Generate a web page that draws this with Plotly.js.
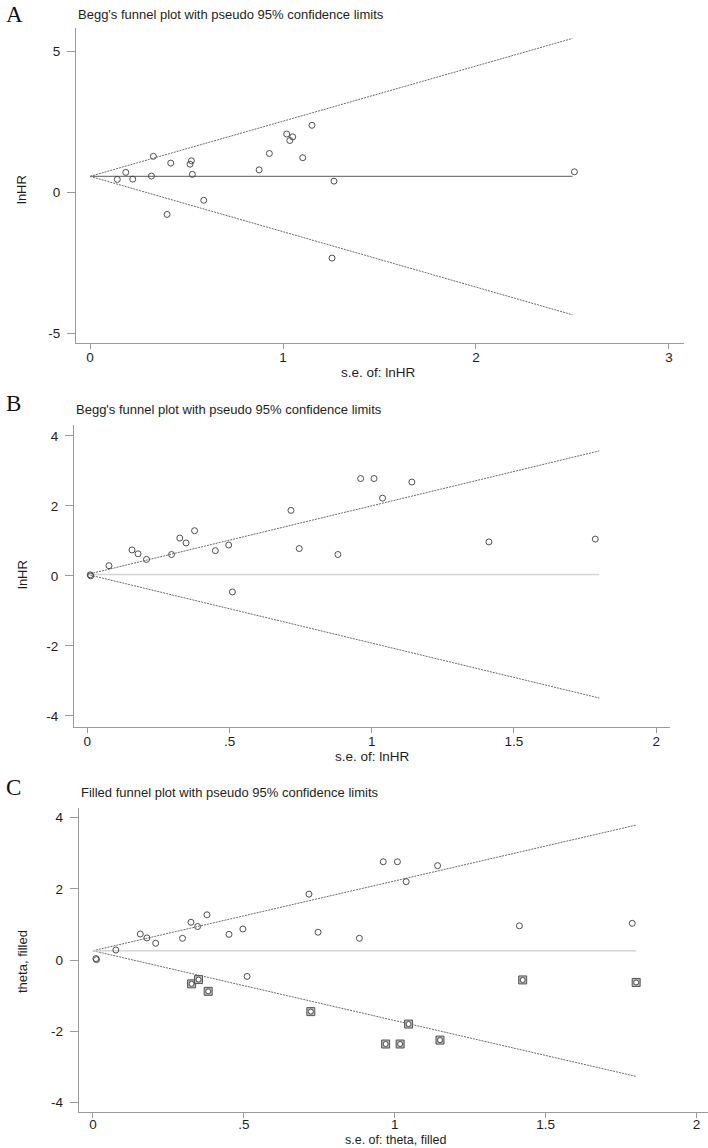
<!DOCTYPE html>
<html>
<head>
<meta charset="utf-8">
<script src="https://cdn.plot.ly/plotly-3.0.1.min.js"></script>
<style>html,body{margin:0;padding:0;background:#fff;}#chart{width:708px;height:1148px;}</style>
</head>
<body>
<div id="chart"></div>
<script>
// ---------- Panel A data ----------
const A_se   = [0.141,0.185,0.221,0.318,0.328,0.418,0.518,0.525,0.530,0.589,0.399,0.876,0.929,1.019,1.035,1.050,1.102,1.150,1.264,1.254,2.51];
const A_lnhr = [0.45,0.70,0.46,0.57,1.27,1.03,0.99,1.11,0.63,-0.29,-0.79,0.79,1.37,2.06,1.83,1.96,1.22,2.37,0.39,-2.34,0.72];
const A_lineSe    = [0, 2.5];
const A_lineTheta = [0.56, 0.56];
const A_upper     = [0.56, 5.45];
const A_lower     = [0.56, -4.35];

// ---------- Panel B data ----------
const B_se   = [0.010,0.012,0.076,0.157,0.178,0.208,0.296,0.325,0.347,0.377,0.450,0.497,0.510,0.716,0.745,0.881,0.961,1.008,1.038,1.141,1.412,1.786];
const B_lnhr = [0.03,0.00,0.29,0.74,0.63,0.47,0.61,1.08,0.94,1.29,0.72,0.88,-0.46,1.87,0.78,0.61,2.78,2.78,2.22,2.68,0.97,1.05];
const B_lineSe    = [0, 1.8];
const B_lineTheta = [0.04, 0.04];
const B_upper     = [0.04, 3.57];
const B_lower     = [0.04, -3.49];

// ---------- Panel C data ----------
const C_se    = [0.010,0.012,0.076,0.157,0.179,0.208,0.297,0.325,0.347,0.378,0.451,0.497,0.511,0.716,0.746,0.883,0.962,1.009,1.038,1.142,1.413,1.787];
const C_theta = [0.04,0.01,0.28,0.73,0.62,0.47,0.61,1.06,0.94,1.27,0.72,0.87,-0.46,1.85,0.78,0.61,2.76,2.76,2.20,2.65,0.96,1.03];
const Cf_se    = [0.327,0.350,0.382,0.722,0.970,1.018,1.046,1.150,1.424,1.800];
const Cf_theta = [-0.67,-0.55,-0.88,-1.45,-2.36,-2.36,-1.80,-2.25,-0.56,-0.63];
const C_lineSe    = [0, 1.8];
const C_lineTheta = [0.26, 0.26];
const C_upper     = [0.26, 3.79];
const C_lower     = [0.26, -3.27];

// ---------- tick labels ----------
const A_xticks = [0,1,2,3];        const A_xtext = ['0','1','2','3'];
const A_yticks = [-5,0,5];         const A_ytext = ['-5','0','5'];
const BC_xticks = [0,0.5,1,1.5,2]; const BC_xtext = ['0','.5','1','1.5','2'];
const BC_yticks = [-4,-2,0,2,4];   const BC_ytext = ['-4','-2','0','2','4'];

// ---------- helpers (layout only) ----------
const W = 708, H = 1148;
const px = v => v / W;
const py = v => 1 - v / H;

const circ = {symbol:'circle-open', size:6, color:'#3c3c3c', line:{width:0.9, color:'#3c3c3c'}};
const dotted = {color:'#6a6a6a', width:1, dash:'2px,1px'};

function funnel(xa, ya, se, up, lo, thSe, th, thColor, thWidth) {
  return [
    {x: se, y: up, xaxis: xa, yaxis: ya, mode:'lines', line: dotted, hoverinfo:'skip'},
    {x: se, y: lo, xaxis: xa, yaxis: ya, mode:'lines', line: dotted, hoverinfo:'skip'},
    {x: thSe, y: th, xaxis: xa, yaxis: ya, mode:'lines', line:{color: thColor, width: thWidth}, hoverinfo:'skip'}
  ];
}

const traces = [
  ...funnel('x','y', A_lineSe, A_upper, A_lower, A_lineSe, A_lineTheta, '#7a7a7a', 1.3),
  {x: A_se, y: A_lnhr, xaxis:'x', yaxis:'y', mode:'markers', marker: circ},
  ...funnel('x2','y2', B_lineSe, B_upper, B_lower, B_lineSe, B_lineTheta, '#d4d4d4', 1.6),
  {x: B_se, y: B_lnhr, xaxis:'x2', yaxis:'y2', mode:'markers', marker: circ},
  ...funnel('x3','y3', C_lineSe, C_upper, C_lower, C_lineSe, C_lineTheta, '#d4d4d4', 1.6),
  {x: Cf_se, y: Cf_theta, xaxis:'x3', yaxis:'y3', mode:'markers',
   marker:{symbol:'square', size:8, color:'#b8b8b8', line:{width:1, color:'#555'}}},
  {x: Cf_se, y: Cf_theta, xaxis:'x3', yaxis:'y3', mode:'markers',
   marker:{symbol:'circle', size:5, color:'#ffffff', line:{width:0.9, color:'#3c3c3c'}}},
  {x: C_se, y: C_theta, xaxis:'x3', yaxis:'y3', mode:'markers', marker: circ}
];

const tickFont = {family:'Liberation Sans, Arial, sans-serif', size:13.5, color:'#1e1e1e'};
function xax(domain, range, vals, text, anchor, standoff) {
  return {domain, range, anchor, tickvals: vals, ticktext: text, ticks:'outside', ticklen:5,
    tickwidth:1, tickcolor:'#9a9a9a', showline:true, linecolor:'#9a9a9a', linewidth:1,
    showgrid:false, zeroline:false, tickfont: tickFont, ticklabelstandoff: standoff, fixedrange:true};
}
function yax(domain, range, vals, text, anchor) {
  return {domain, range, anchor, tickvals: vals, ticktext: text, ticks:'outside', ticklen:8,
    tickwidth:1, tickcolor:'#9a9a9a', showline:true, linecolor:'#9a9a9a', linewidth:1,
    showgrid:false, zeroline:false, tickfont: tickFont, ticklabelstandoff:4, fixedrange:true};
}

const serif = {family:'Liberation Serif, Times New Roman, serif', size:23, color:'#111'};
const sans13 = {family:'Liberation Sans, Arial, sans-serif', size:13, color:'#1e1e1e'};
const sansX = {family:'Liberation Sans, Arial, sans-serif', size:13.5, color:'#1e1e1e'};
const sansC = {family:'Liberation Sans, Arial, sans-serif', size:12.5, color:'#1e1e1e'};
function ann(text, x, y, font, xanchor, angle) {
  return {text, x: px(x), y: py(y), xref:'paper', yref:'paper', showarrow:false,
    xanchor: xanchor || 'center', yanchor:'middle', font, textangle: angle || 0};
}

const layout = {
  width: W, height: H, margin:{l:0, r:0, t:0, b:0},
  paper_bgcolor:'#fff', plot_bgcolor:'#fff', showlegend:false,
  xaxis:  xax([px(76), px(684)], [-0.073, 3.078], A_xticks, A_xtext, 'y', -3),
  yaxis:  yax([py(343), py(28)], [-5.35, 5.82], A_yticks, A_ytext, 'x'),
  xaxis2: xax([px(74), px(669.5)], [-0.047, 2.047], BC_xticks, BC_xtext, 'y2', -3),
  yaxis2: yax([py(726.7), py(425)], [-4.31, 4.31], BC_yticks, BC_ytext, 'x2'),
  xaxis3: xax([px(78.7), 1], [-0.047, 2.038], BC_xticks, BC_xtext, 'y3', -5),
  yaxis3: yax([py(1112), py(808)], [-4.27, 4.27], BC_yticks, BC_ytext, 'x3'),
  annotations: [
    ann('A', 14, 14, serif),
    ann("Begg's funnel plot with pseudo 95% confidence limits", 76, 14, sans13, 'left'),
    ann('s.e. of: lnHR', 378, 372, sansX),
    ann('lnHR', 22, 190, sans13, 'center', -90),
    ann('B', 13, 403, serif),
    ann("Begg's funnel plot with pseudo 95% confidence limits", 74, 409, sans13, 'left'),
    ann('s.e. of: lnHR', 372, 756, sansX),
    ann('lnHR', 22, 575, sans13, 'center', -90),
    ann('C', 13, 787, serif),
    ann('Filled funnel plot with pseudo 95% confidence limits', 79, 792, sans13, 'left'),
    ann('s.e. of: theta, filled', 395, 1140, sansC),
    ann('theta, filled', 22, 962, sans13, 'center', -90)
  ]
};

Plotly.newPlot('chart', traces, layout, {staticPlot:true, displayModeBar:false});
</script>
</body>
</html>
